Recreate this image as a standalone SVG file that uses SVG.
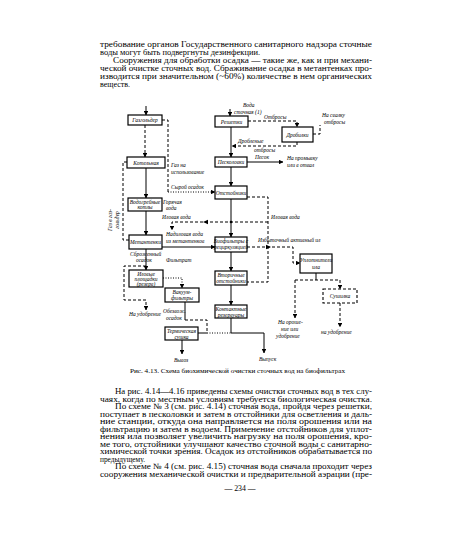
<svg xmlns="http://www.w3.org/2000/svg" width="450" height="557" viewBox="0 0 450 557">
<defs>
<marker id="ah" viewBox="0 0 6 6" refX="5.5" refY="3" markerWidth="4.5" markerHeight="4.5" orient="auto"><path d="M0,0 L6,3 L0,6 z" fill="#000"/></marker>
</defs>
<style>
.pt{font-family:"Liberation Serif","Times New Roman",serif;font-size:7.8px;fill:#000}
.cap{font-size:6.5px}
.lb{font-family:"Liberation Serif","Times New Roman",serif;font-style:italic;font-size:5.5px;fill:#000}
.m{text-anchor:middle}
.bx{fill:#fff;stroke:#000;stroke-width:1.2}
.bd{fill:#fff;stroke:#000;stroke-width:1.1;stroke-dasharray:3 2}
.s{fill:none;stroke:#000;stroke-width:1}
.d{fill:none;stroke:#000;stroke-width:1;stroke-dasharray:3 2}
.o{fill:none;stroke:#000;stroke-width:1;stroke-dasharray:1 1.5}
</style>
<rect width="450" height="557" fill="#fff"/>

<g id="text-top" class="pt">
<text x="100" y="47" textLength="272" lengthAdjust="spacingAndGlyphs">требование органов Государственного санитарного надзора сточные</text>
<text x="100" y="55" textLength="160" lengthAdjust="spacingAndGlyphs">воды могут быть подвергнуты дезинфекции.</text>
<text x="113" y="63" textLength="259" lengthAdjust="spacingAndGlyphs">Сооружения для обработки осадка — такие же, как и при механи-</text>
<text x="100" y="71" textLength="272" lengthAdjust="spacingAndGlyphs">ческой очистке сточных вод. Сбраживание осадка в метантенках про-</text>
<text x="100" y="79" textLength="272" lengthAdjust="spacingAndGlyphs">изводится при значительном (~60%) количестве в нем органических</text>
<text x="100" y="87" textLength="30" lengthAdjust="spacingAndGlyphs">веществ.</text>
</g>

<g id="connectors">
<path class="s" d="M146,106 V115" marker-end="url(#ah)"/>
<path class="s" d="M230,109 V116" marker-end="url(#ah)"/>
<path class="d" d="M145,125 V157" marker-end="url(#ah)"/>
<path class="d" d="M162,120 H168 V192"/>
<path class="o" d="M168,192 H215" marker-end="url(#ah)"/>
<path class="s" d="M231,127 V157" marker-end="url(#ah)"/>
<path class="d" d="M248,121 H297 V127" marker-end="url(#ah)"/>
<path class="d" d="M313,134 H320 V125"/>
<path class="d" d="M297,142 V146 H232" marker-end="url(#ah)"/>
<path class="s" d="M247,162 H283" marker-end="url(#ah)"/>
<path class="d" d="M127,162 H123 V240 H129"/>
<path class="s" d="M146,168 V198" marker-end="url(#ah)"/>
<path class="s" d="M231,167 V186" marker-end="url(#ah)"/>
<path class="d" d="M247,197 H268 V282 H247"/>
<path class="s" d="M231,199 V237" marker-end="url(#ah)"/>
<circle cx="231" cy="222" r="1.3" fill="#000"/>
<path class="d" d="M268,222 H172 V230" marker-end="url(#ah)"/>
<path d="M203,222 L208,219.8 L208,224.2 z" fill="#000"/>
<path class="s" d="M146,211 V235" marker-end="url(#ah)"/>
<path class="s" d="M162,247 H215" marker-end="url(#ah)"/>
<path class="d" d="M247,247 H293 V263 H300" marker-end="url(#ah)"/>
<path d="M271,247 L266,244.8 L266,249.2 z" fill="#000"/>
<path class="s" d="M231,252 V271" marker-end="url(#ah)"/>
<path class="s" d="M146,249 V270" marker-end="url(#ah)"/>
<path class="d" d="M146,266 H124 V300 H146 V310" marker-end="url(#ah)"/>
<path class="o" d="M163,278 H182 V288" marker-end="url(#ah)"/>
<path class="s" d="M185,302 V320"/>
<path class="d" d="M185,320 H207 V333"/>
<path class="s" d="M198,333 H207"/>
<path class="o" d="M207,333 H231"/>
<path class="s" d="M182,340 V354" marker-end="url(#ah)"/>
<path class="s" d="M231,285 V305" marker-end="url(#ah)"/>
<path class="s" d="M231,318 V333 H264 V353" marker-end="url(#ah)"/>
<path class="s" d="M316,273 V280"/>
<path class="d" d="M295,280 H340"/>
<path class="d" d="M295,280 V318" marker-end="url(#ah)"/>
<path class="d" d="M340,280 V289" marker-end="url(#ah)"/>
<path class="d" d="M340,303 V327" marker-end="url(#ah)"/>
</g>

<g id="labels" class="lb">
<text x="243" y="107">Вода</text>
<text x="234" y="113.5">сточная (1)</text>
<text x="264" y="118.5">Отбросы</text>
<text x="322" y="117">На свалку</text>
<text x="324" y="124">отбросы</text>
<text x="238" y="143">Дробленые</text>
<text x="254" y="152">отбросы</text>
<text x="255" y="159">Песок</text>
<text x="287" y="160">На промывку</text>
<text x="287" y="167">или в отвал</text>
<text x="171" y="167">Газ на</text>
<text x="171" y="174">использование</text>
<text x="171" y="189">Сырой осадок</text>
<text x="163" y="204">Горячая</text>
<text x="166" y="210">вода</text>
<text x="162" y="219">Иловая вода</text>
<text x="271" y="219">Иловая вода</text>
<text x="166" y="236">Надиловая вода</text>
<text x="166" y="243">из метантенков</text>
<text x="258" y="242">Избыточный активный ил</text>
<text x="130" y="256">Сброженный</text>
<text x="136" y="262">осадок</text>
<text x="166" y="262">Фильтрат</text>
<text x="129" y="316">На удобрение</text>
<text x="163" y="313">Обезвож.</text>
<text x="166" y="320">осадок</text>
<text x="174" y="362">Вывоз</text>
<text x="259" y="361">Выпуск</text>
<text x="278" y="324">На ороше-</text>
<text x="281" y="331">ние или</text>
<text x="276" y="338">удобрение</text>
<text x="321" y="334">на удобрение</text>
<g transform="translate(114,220) rotate(-90)"><text class="m" x="0" y="-2">Газ в газ-</text><text class="m" x="0" y="5">гольдер</text></g>
</g>

<g id="L1"><rect class="bx" x="128" y="115" width="34" height="10"/><text class="lb m" x="145" y="122">Газгольдер</text></g>
<g id="M1"><rect class="bx" x="215" y="116" width="33" height="11"/><text class="lb m" x="231.5" y="123.5">Решетки</text></g>
<g id="R1"><rect class="bx" x="282" y="127" width="31" height="15"/><text class="lb m" x="297.5" y="136.5">Дробилки</text></g>
<g id="L2"><rect class="bx" x="127" y="157" width="38" height="11"/><text class="lb m" x="146" y="164.5">Котельная</text></g>
<g id="M2"><rect class="bx" x="215" y="157" width="32" height="10"/><text class="lb m" x="231" y="164">Песколовки</text></g>
<g id="M3"><rect class="bx" x="215" y="186" width="32" height="13"/><text class="lb m" x="231" y="194.5">Отстойники</text></g>
<g id="L3"><rect class="bx" x="128" y="198" width="34" height="13"/><text class="lb m" x="145" y="203.5">Водогрейные</text><text class="lb m" x="145" y="209">котлы</text></g>
<g id="L4"><rect class="bx" x="129" y="235" width="33" height="14"/><text class="lb m" x="145.5" y="244">Метантенки</text></g>
<g id="M4"><rect class="bx" x="215" y="237" width="32" height="15"/><text class="lb m" x="231" y="243">Биофильтры с</text><text class="lb m" x="231" y="249">рециркуляцией</text></g>
<g id="R2"><rect class="bx" x="300" y="254" width="32" height="19"/><text class="lb m" x="316" y="262">Уплотнители</text><text class="lb m" x="316" y="268.5">ила</text></g>
<g id="L5"><rect class="bx" x="129" y="270" width="34" height="17"/><text class="lb m" x="146" y="275.5">Иловые</text><text class="lb m" x="146" y="280.5">площадки</text><text class="lb m" x="146" y="285.5">(резерв)</text></g>
<g id="M5"><rect class="bx" x="215" y="271" width="32" height="14"/><text class="lb m" x="231" y="277">Вторичные</text><text class="lb m" x="231" y="283">отстойники</text></g>
<g id="L6"><rect class="bx" x="165" y="288" width="34" height="14"/><text class="lb m" x="182" y="294">Вакуум-</text><text class="lb m" x="182" y="300">фильтры</text></g>
<g id="R3"><rect class="bd" x="323" y="289" width="34" height="14"/><text class="lb m" x="340" y="298">Сушилка</text></g>
<g id="M6"><rect class="bx" x="215" y="305" width="32" height="13"/><text class="lb m" x="231" y="310.5">Контактные</text><text class="lb m" x="231" y="316.5">резервуары</text></g>
<g id="L7"><rect class="bx" x="165" y="327" width="33" height="13"/><text class="lb m" x="181.5" y="332.5">Термическая</text><text class="lb m" x="181.5" y="338.5">сушка</text></g>

<g id="caption" class="pt cap">
<text x="130" y="373" textLength="215" lengthAdjust="spacingAndGlyphs">Рис. 4.13. Схема биохимической очистки сточных вод на биофильтрах</text>
</g>

<g id="text-bottom" class="pt">
<text x="115" y="394" textLength="257" lengthAdjust="spacingAndGlyphs">На рис. 4.14—4.16 приведены схемы очистки сточных вод в тех слу-</text>
<text x="100" y="401.5" textLength="272" lengthAdjust="spacingAndGlyphs">чаях, когда по местным условиям требуется биологическая очистка.</text>
<text x="115" y="409" textLength="257" lengthAdjust="spacingAndGlyphs">По схеме № 3 (см. рис. 4.14) сточная вода, пройдя через решетки,</text>
<text x="100" y="416.5" textLength="272" lengthAdjust="spacingAndGlyphs">поступает в песколовки и затем в отстойники для осветления и даль-</text>
<text x="100" y="424" textLength="272" lengthAdjust="spacingAndGlyphs">ние станции, откуда она направляется на поля орошения или на</text>
<text x="100" y="431.5" textLength="272" lengthAdjust="spacingAndGlyphs">фильтрацию и затем в водоем. Применение отстойников для уплот-</text>
<text x="100" y="439" textLength="272" lengthAdjust="spacingAndGlyphs">нения ила позволяет увеличить нагрузку на поля орошения, кро-</text>
<text x="100" y="446.5" textLength="272" lengthAdjust="spacingAndGlyphs">ме того, отстойники улучшают качество сточной воды с санитарно-</text>
<text x="100" y="454" textLength="272" lengthAdjust="spacingAndGlyphs">химической точки зрения. Осадок из отстойников обрабатывается по</text>
<text x="100" y="461.5" textLength="45" lengthAdjust="spacingAndGlyphs">предыдущему.</text>
<text x="115" y="469" textLength="257" lengthAdjust="spacingAndGlyphs">По схеме № 4 (см. рис. 4.15) сточная вода сначала проходит через</text>
<text x="100" y="476.5" textLength="272" lengthAdjust="spacingAndGlyphs">сооружения механической очистки и предварительной аэрации (пре-</text>
<text x="240" y="491" text-anchor="middle">— 234 —</text>
</g>
</svg>
